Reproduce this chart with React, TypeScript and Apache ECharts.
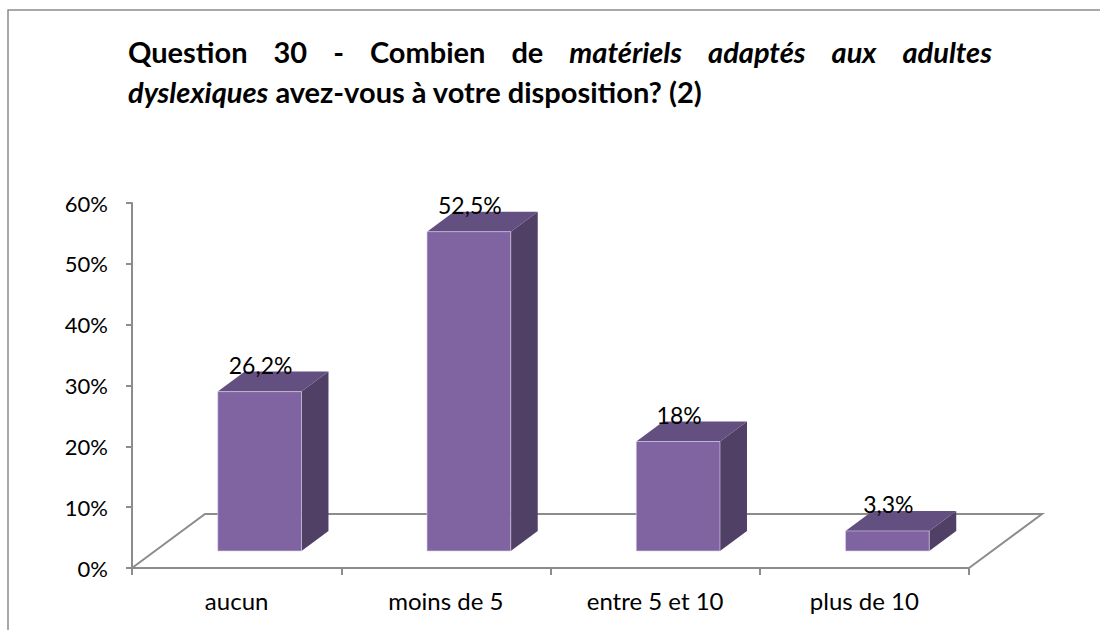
import React, { useEffect, useRef } from "react";
import * as echarts from "echarts";

const CATEGORIES = ["aucun", "moins de 5", "entre 5 et 10", "plus de 10"];
const VALUES = [26.2, 52.5, 18, 3.3];
const Y_MIN = 0;
const Y_MAX = 60;
const Y_STEP = 10;

const TITLE_LINE1 = [
  { t: "Question", i: false },
  { t: "30", i: false },
  { t: "-", i: false },
  { t: "Combien", i: false },
  { t: "de", i: false },
  { t: "matériels", i: true },
  { t: "adaptés", i: true },
  { t: "aux", i: true },
  { t: "adultes", i: true },
];
const TITLE_LINE2_ITALIC = "dyslexiques";
const TITLE_LINE2_REST = " avez-vous à votre disposition? (2)";

const FONT = "Lato";
const TITLE_SIZE = 29;
const FLOOR_DX = 73;
const FLOOR_DY = -54;
const BAR_DX = 27;
const BAR_DY = -20;
const GRAY = "#8c8c8c";

function fmt(v: number) {
  return String(v).replace(".", ",") + "%";
}

export default function App() {
  const ref = useRef<HTMLDivElement>(null);
  useEffect(() => {
    if (!ref.current) return;
    const chart = echarts.init(ref.current, undefined, { renderer: "svg" });

    const canvas = document.createElement("canvas");
    const ctx = canvas.getContext("2d")!;
    const measure = (s: string, italic: boolean) => {
      ctx.font = `${italic ? "italic " : ""}bold ${TITLE_SIZE}px ${FONT}`;
      return ctx.measureText(s).width;
    };
    const L = 128;
    const R = 992;
    const widths = TITLE_LINE1.map((w) => measure(w.t, w.i));
    const total = widths.reduce((a, b) => a + b, 0);
    const gap = (R - L - total) / (TITLE_LINE1.length - 1);
    let x = L;
    const line1 = TITLE_LINE1.map((w, k) => {
      const el = {
        type: "text",
        x,
        y: 51,
        style: {
          text: w.t,
          font: `${w.i ? "italic " : ""}bold ${TITLE_SIZE}px ${FONT}`,
          fill: "#000",
          verticalAlign: "middle",
          align: "left",
        },
      };
      x += widths[k] + gap;
      return el;
    });

    const option: any = {
      animation: false,
      backgroundColor: "#fff",
      graphic: [
        {
          type: "rect",
          shape: { x: 8, y: 10, width: 1200, height: 700 },
          style: { fill: "none", stroke: GRAY, lineWidth: 1.5 },
          silent: true,
        },
        ...line1,
        {
          type: "text",
          x: L,
          y: 91,
          style: {
            text: `{i|${TITLE_LINE2_ITALIC}}{b|${TITLE_LINE2_REST}}`,
            verticalAlign: "middle",
            align: "left",
            rich: {
              i: { fontFamily: FONT, fontWeight: "bold", fontStyle: "italic", fontSize: TITLE_SIZE, fill: "#000", color: "#000" },
              b: { fontFamily: FONT, fontWeight: "bold", fontSize: TITLE_SIZE, fill: "#000", color: "#000" },
            },
          },
        },
      ],
      grid: { left: 132, top: 203, width: 837, height: 365, containLabel: false },
      xAxis: {
        type: "category",
        data: CATEGORIES,
        axisLine: { show: true, lineStyle: { color: GRAY, width: 2 } },
        axisTick: { show: true, length: 7, lineStyle: { color: GRAY, width: 2 } },
        axisLabel: { color: "#000", fontFamily: FONT, fontSize: 24, margin: 20 },
        splitLine: { show: false },
      },
      yAxis: {
        type: "value",
        min: Y_MIN,
        max: Y_MAX,
        interval: Y_STEP,
        axisLine: { show: true, lineStyle: { color: GRAY, width: 2 } },
        axisTick: { show: true, length: 6, lineStyle: { color: GRAY, width: 2 } },
        axisLabel: { color: "#000", fontFamily: FONT, fontSize: 22, margin: 24, formatter: "{value}%" },
        splitLine: { show: false },
      },
      series: [
        {
          type: "custom",
          name: "floor",
          data: [0],
          z: 1,
          silent: true,
          renderItem: (params: any, api: any) => {
            const cs = params.coordSys;
            const x0 = cs.x;
            const x1 = cs.x + cs.width;
            const yb = cs.y + cs.height;
            return {
              type: "polyline",
              shape: {
                points: [
                  [x0, yb],
                  [x0 + FLOOR_DX, yb + FLOOR_DY],
                  [x1 + FLOOR_DX, yb + FLOOR_DY],
                  [x1, yb],
                ],
              },
              style: { stroke: GRAY, lineWidth: 2, fill: "none" },
            };
          },
        },
        {
          type: "custom",
          name: "bars",
          data: VALUES.map((v, i) => [i, v]),
          z: 3,
          renderItem: (params: any, api: any) => {
            const i = api.value(0);
            const v = api.value(1);
            const base = api.coord([i, 0]);
            const top = api.coord([i, v]);
            const catW = api.size([1, 0])[0];
            const bw = catW * 0.4;
            const h = base[1] - top[1];
            const fx0 = base[0] - bw / 2 + (FLOOR_DX - BAR_DX) / 2;
            const fy0 = base[1] + (FLOOR_DY - BAR_DY) / 2;
            const ty = fy0 - h;
            return {
              type: "group",
              children: [
                {
                  type: "polygon",
                  shape: {
                    points: [
                      [fx0 + bw, ty],
                      [fx0 + bw + BAR_DX, ty + BAR_DY],
                      [fx0 + bw + BAR_DX, fy0 + BAR_DY],
                      [fx0 + bw, fy0],
                    ],
                  },
                  style: { fill: "#504066" },
                },
                {
                  type: "polygon",
                  shape: {
                    points: [
                      [fx0, ty],
                      [fx0 + BAR_DX, ty + BAR_DY],
                      [fx0 + bw + BAR_DX, ty + BAR_DY],
                      [fx0 + bw, ty],
                    ],
                  },
                  style: { fill: "#634f80" },
                },
                {
                  type: "rect",
                  shape: { x: fx0, y: ty, width: bw, height: h },
                  style: { fill: "#8064a2", stroke: "rgba(220,210,235,0.6)", lineWidth: 1 },
                },
                {
                  type: "text",
                  x: fx0 + bw / 2 + 1,
                  y: ty + BAR_DY + 5,
                  style: {
                    text: fmt(v),
                    font: `23px ${FONT}`,
                    fill: "#000",
                    align: "center",
                    verticalAlign: "bottom",
                  },
                },
              ],
            };
          },
        },
      ],
    };
    chart.setOption(option);
    return () => chart.dispose();
  }, []);
  return (
    <div
      ref={ref}
      style={{ position: "fixed", left: 0, top: 0, width: 1100, height: 630 }}
    />
  );
}
